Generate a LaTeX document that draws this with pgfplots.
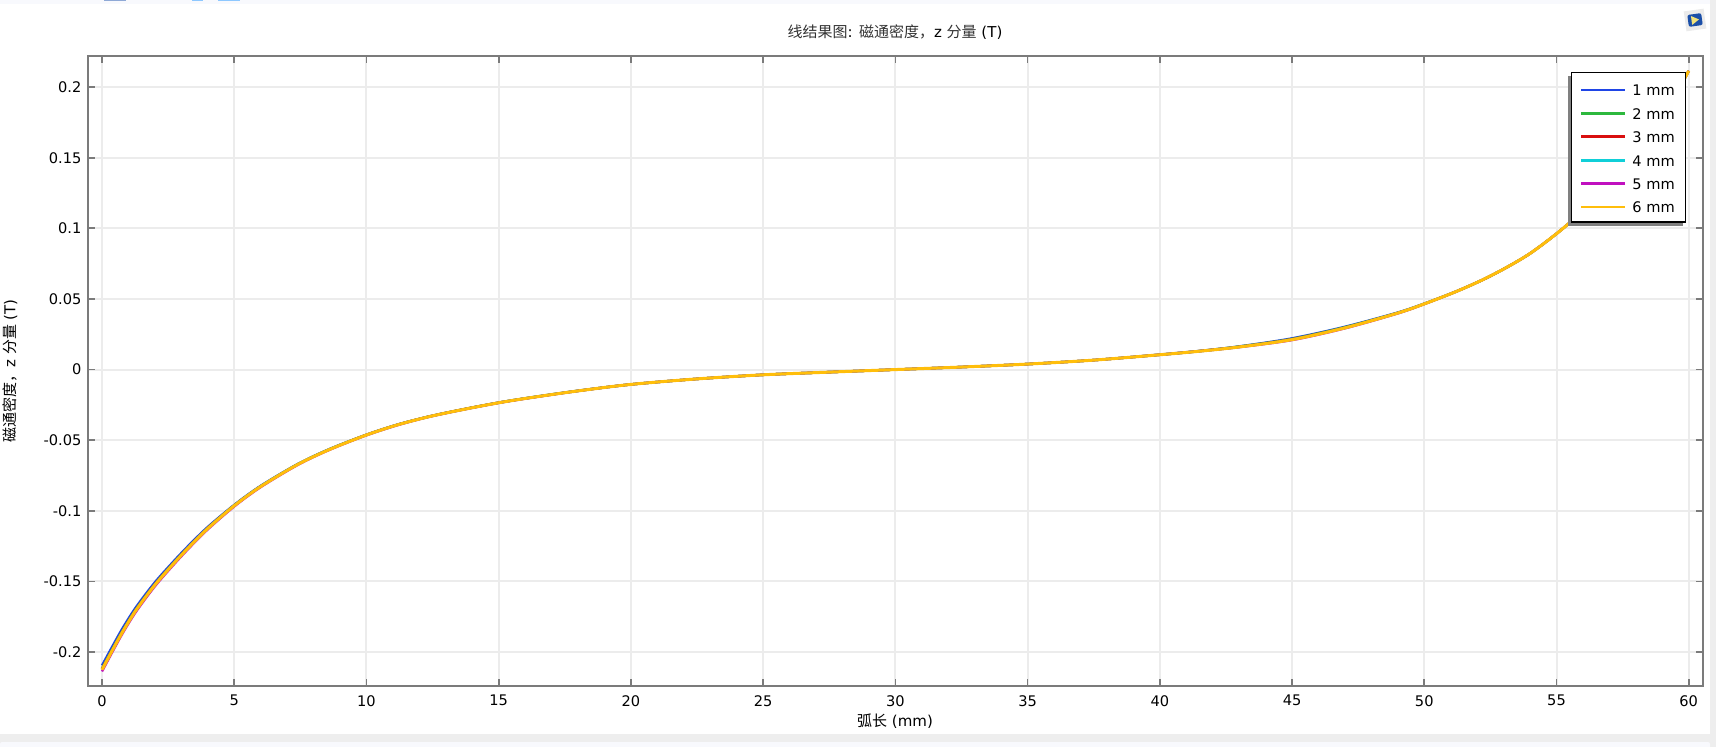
\documentclass[border=0pt]{standalone}
\usepackage{pgfplots}
\usepackage{pgfplotstable}
\usepackage{fontspec}
\pgfplotsset{compat=1.18}
\setmainfont{DejaVu Sans}
\newfontfamily\cjk{Noto Sans CJK SC}
\definecolor{c1}{HTML}{1F45E6}
\definecolor{c2}{HTML}{2DB83D}
\definecolor{c3}{HTML}{D90F0F}
\definecolor{c4}{HTML}{10CFD8}
\definecolor{c5}{HTML}{C010BF}
\definecolor{c6}{HTML}{FFBE0B}
\definecolor{axgray}{HTML}{7B7B7B}
\definecolor{gridc}{HTML}{ECECEC}
\definecolor{paneb}{HTML}{F8F9FD}
\definecolor{paneg}{HTML}{EEEEEE}
\definecolor{tabA}{HTML}{8FA9D6}
\definecolor{tabB}{HTML}{8EC8FF}
\definecolor{iconb}{HTML}{1B4FA8}
\definecolor{icony}{HTML}{F2E27A}
\pgfplotstableread{
x y1 y2 y3 y4 y5 y6
0 -0.2095 -0.2115 -0.2118 -0.2122 -0.2137 -0.2125
0.4 -0.1957 -0.1975 -0.1979 -0.1982 -0.1996 -0.1985
0.8 -0.1824 -0.1841 -0.1844 -0.1847 -0.1860 -0.1850
1.3 -0.1678 -0.1692 -0.1695 -0.1698 -0.1710 -0.1700
2 -0.1506 -0.1518 -0.1520 -0.1523 -0.1534 -0.1525
2.7 -0.1359 -0.1369 -0.1371 -0.1373 -0.1383 -0.1375
3.3 -0.1241 -0.1250 -0.1251 -0.1253 -0.1262 -0.1255
4 -0.1114 -0.1120 -0.1121 -0.1123 -0.1131 -0.1125
5 -0.0958 -0.0961 -0.0962 -0.0963 -0.0969 -0.0964
6 -0.0823 -0.0826 -0.0827 -0.0827 -0.0832 -0.0828
7.4 -0.0669 -0.0670 -0.0671 -0.0671 -0.0675 -0.0672
8.6 -0.0563 -0.0564 -0.0565 -0.0565 -0.0568 -0.0566
10 -0.0461 -0.0462 -0.0462 -0.0463 -0.0465 -0.0463
11.2 -0.0388 -0.0389 -0.0389 -0.0390 -0.0392 -0.0390
12.4 -0.0331 -0.0331 -0.0331 -0.0332 -0.0333 -0.0332
13.7 -0.0280 -0.0280 -0.0280 -0.0281 -0.0282 -0.0281
15 -0.0234 -0.0234 -0.0234 -0.0235 -0.0236 -0.0235
16.2 -0.0198 -0.0198 -0.0199 -0.0199 -0.0200 -0.0199
18 -0.0150 -0.0150 -0.0151 -0.0151 -0.0151 -0.0151
20 -0.0105 -0.0105 -0.0105 -0.0105 -0.0105 -0.0105
22.5 -0.0066 -0.0066 -0.0066 -0.0066 -0.0066 -0.0066
25 -0.0037 -0.0037 -0.0037 -0.0037 -0.0037 -0.0037
27.5 -0.0018 -0.0018 -0.0018 -0.0018 -0.0018 -0.0018
30 0.0000 0.0000 0.0000 0.0000 0.0000 0.0000
32.5 0.0018 0.0018 0.0018 0.0018 0.0018 0.0018
35 0.0039 0.0039 0.0039 0.0039 0.0039 0.0039
37.5 0.0067 0.0067 0.0067 0.0067 0.0067 0.0067
40 0.0106 0.0105 0.0105 0.0105 0.0105 0.0105
41.5 0.0132 0.0131 0.0131 0.0130 0.0130 0.0130
43 0.0164 0.0163 0.0161 0.0160 0.0159 0.0160
45 0.0221 0.0217 0.0215 0.0213 0.0209 0.0212
47 0.0303 0.0300 0.0297 0.0296 0.0292 0.0295
49 0.0404 0.0402 0.0401 0.0400 0.0398 0.0400
50 0.0467 0.0466 0.0465 0.0465 0.0464 0.0465
51.2 0.0553 0.0552 0.0552 0.0552 0.0552 0.0552
52.2 0.0635 0.0635 0.0635 0.0635 0.0635 0.0635
53.1 0.0722 0.0722 0.0722 0.0722 0.0722 0.0722
54 0.0822 0.0822 0.0822 0.0822 0.0822 0.0822
55 0.0962 0.0962 0.0962 0.0962 0.0962 0.0962
56 0.1122 0.1122 0.1122 0.1122 0.1122 0.1122
57 0.1305 0.1305 0.1305 0.1305 0.1305 0.1305
58 0.1525 0.1525 0.1525 0.1525 0.1525 0.1525
59 0.1790 0.1790 0.1790 0.1790 0.1790 0.1790
59.5 0.1945 0.1945 0.1945 0.1945 0.1945 0.1945
60 0.2115 0.2115 0.2115 0.2115 0.2115 0.2115
}\datatable
\begin{document}
\begin{tikzpicture}
\useasboundingbox (0,0) rectangle (858pt,-373.5pt);
\begin{scope}[x=0.5pt,y=-0.5pt]
\fill[white] (0,0) rectangle (1716,747);
\fill[paneb] (0,0) rectangle (1716,4.5);
\fill[paneg] (1710,0) rectangle (1716,747);
\fill[paneg] (0,734) rectangle (1710,747);
\fill[paneb,rounded corners=1pt] (0,742) rectangle (1710,749);
\fill[tabA] (104,0) rectangle (126,1);
\fill[tabB] (192,0) rectangle (203,1);
\fill[tabB] (218,0) rectangle (240,1);
\begin{scope}[shift={(1695,20)},rotate=8]
\fill[black!8] (-10,-10) rectangle (10,10);
\fill[iconb,rounded corners=1pt] (-7,-6) rectangle (7,6);
\fill[icony] (-3.5,-4.5) -- (4,0) -- (-3.5,4.5) -- cycle;
\end{scope}
\end{scope}
\begin{axis}[
  at={(44pt,-343pt)}, anchor=south west,
  scale only axis, width=807.5pt, height=315pt,
  xmin=-0.53, xmax=60.54, ymin=-0.224, ymax=0.222,
  xtick={0,5,10,15,20,25,30,35,40,45,50,55,60},
  xticklabels={0,5,10,15,20,25,30,35,40,45,50,55,60},
  ytick={-0.2,-0.15,-0.1,-0.05,0,0.05,0.1,0.15,0.2},
  yticklabels={-0.2,-0.15,-0.1,-0.05,0,0.05,0.1,0.15,0.2},
  tick align=inside, major tick length=3.5pt,
  tick style={axgray,line width=0.85pt},
  axis line style={axgray,line width=1pt},
  grid=major, grid style={gridc,line width=1pt},
  ticklabel style={font=\fontsize{7.3}{8}\selectfont, inner sep=0pt},
  yticklabel style={xshift=-3.1pt},
  xticklabel style={yshift=-4.4pt},
  title={\textcolor{black!80}{\cjk 线结果图}: \textcolor{black!80}{\cjk 磁通密度，}z \textcolor{black!80}{\cjk 分量} (T)},
  title style={font=\fontsize{7.5}{8}\selectfont, at={(rel axis cs:0.4997,1)}, anchor=center, yshift=6pt, inner sep=0pt},
  xlabel={{\cjk 弧长} (mm)},
  xlabel style={font=\fontsize{7.5}{8}\selectfont, at={(rel axis cs:0.4997,0)}, anchor=center, yshift=-17.5pt, inner sep=0pt},
  ylabel={{\cjk 磁通密度，}z {\cjk 分量} (T)},
  ylabel style={font=\fontsize{7.5}{8}\selectfont, at={(rel axis cs:0,0.5)}, anchor=center, yshift=39pt, inner sep=0pt},
  legend cell align=left,
  legend style={at={(rel axis cs:0.9897,0.9741)}, anchor=north east,
    draw=black, line width=0.6pt, fill=white,
    font=\fontsize{7.3}{8}\selectfont,
    inner xsep=4pt, inner ysep=2.15pt,
    row sep=0pt, column sep=0pt,
    nodes={inner sep=0pt, text height=9.35pt, text depth=2.35pt}},
  legend image code/.code={\draw[#1,line width=1.4pt] (0,-0.5pt) -- (22pt,-0.5pt);
    \draw[draw=none,fill=none] (0,0) -- (25.6pt,0);},
  every axis plot/.append style={line width=1.2pt, no markers, line join=round, smooth, tension=0.5},
]
\addplot[c1] table[x=x,y=y1] {\datatable}; \addlegendentry{1 mm\hspace*{1.5pt}}
\addplot[c2] table[x=x,y=y2] {\datatable}; \addlegendentry{2 mm\hspace*{1.5pt}}
\addplot[c3] table[x=x,y=y3] {\datatable}; \addlegendentry{3 mm\hspace*{1.5pt}}
\addplot[c4] table[x=x,y=y4] {\datatable}; \addlegendentry{4 mm\hspace*{1.5pt}}
\addplot[c5] table[x=x,y=y5] {\datatable}; \addlegendentry{5 mm\hspace*{1.5pt}}
\addplot[c6,line width=1.5pt] table[x=x,y=y6] {\datatable}; \addlegendentry{6 mm\hspace*{1.5pt}}
\fill[black!50] (rel axis cs:0.9166,0.9683) rectangle (rel axis cs:0.9876,0.7302);
\end{axis}
\end{tikzpicture}
\end{document}
